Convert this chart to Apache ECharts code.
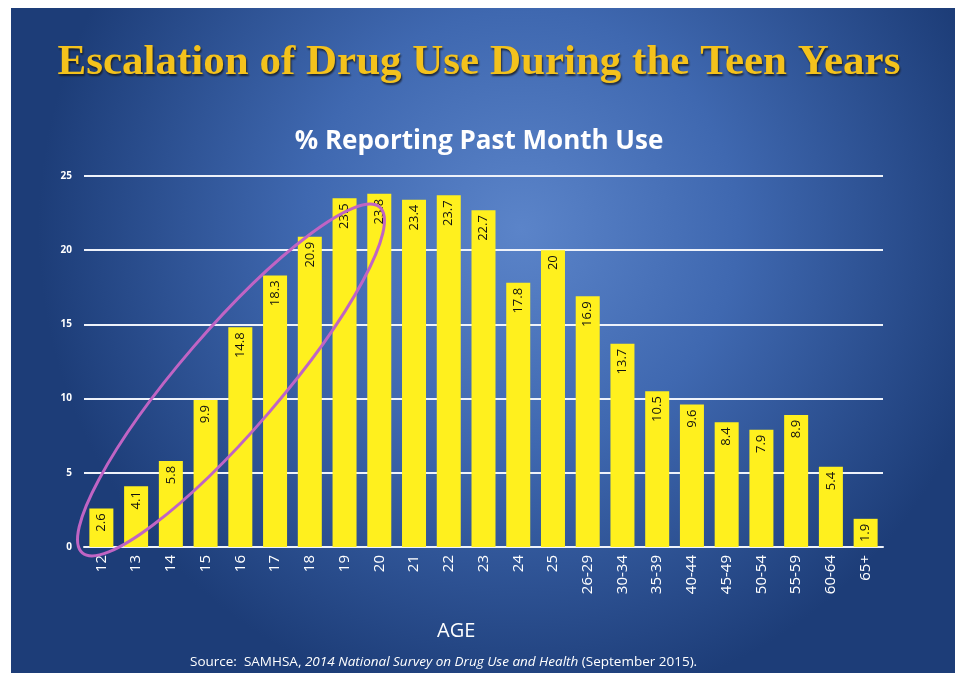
<!DOCTYPE html>
<html>
<head>
<meta charset="utf-8">
<style>
html,body{margin:0;padding:0;background:#fff;}
#c{width:958px;height:673px;}
</style>
<script src="https://cdn.jsdelivr.net/npm/echarts@6/dist/echarts.min.js"></script>
</head>
<body>
<div id="c"></div>
<script>
var categories = ['12','13','14','15','16','17','18','19','20','21','22','23','24','25','26-29','30-34','35-39','40-44','45-49','50-54','55-59','60-64','65+'];
var values = [2.6,4.1,5.8,9.9,14.8,18.3,20.9,23.5,23.8,23.4,23.7,22.7,17.8,20,16.9,13.7,10.5,9.6,8.4,7.9,8.9,5.4,1.9];
var yTicks = [0,5,10,15,20,25];

var chart = echarts.init(document.getElementById('c'));
chart.setOption({
  backgroundColor: '#ffffff',
  animation: false,
  graphic: [
    {
      type: 'rect', z: -10, silent: true,
      shape: {x: 11, y: 8, width: 944, height: 670},
      style: {
        fill: {
          type: 'radial', x: 0.54, y: 0.33, r: 0.72,
          colorStops: [
            {offset: 0, color: '#5b84c9'},
            {offset: 0.45, color: '#3f68b0'},
            {offset: 1, color: '#1d3d78'}
          ]
        }
      }
    },
    {
      type: 'ellipse', z: 100, silent: true,
      x: 231, y: 380, rotation: 49.3 * Math.PI / 180,
      shape: {cx: 0, cy: 0, rx: 228, ry: 50},
      style: {fill: 'none', stroke: '#c064c4', lineWidth: 3}
    }
  ],
  title: [
    {
      text: 'Escalation of Drug Use During the Teen Years',
      left: 'center', top: 36,
      textStyle: {
        fontFamily: 'Liberation Serif', fontSize: 43, fontWeight: 'bold',
        color: '#f4c21c', textShadowColor: 'rgba(20,20,20,0.8)',
        textShadowBlur: 2, textShadowOffsetX: 1, textShadowOffsetY: 2
      }
    },
    {
      text: '% Reporting Past Month Use',
      left: 'center', top: 124,
      textStyle: {fontFamily: 'Open Sans', fontSize: 26, fontWeight: 'bold', color: '#ffffff'}
    },
    {
      text: 'AGE',
      left: 432, top: 616,
      textStyle: {fontFamily: 'Open Sans', fontSize: 20, fontWeight: 'normal', color: '#ffffff'}
    },
    {
      text: '{n|Source:  SAMHSA, }{i|2014 National Survey on Drug Use and Health}{n| (September 2015).}',
      left: 185, top: 650,
      textStyle: {
        fontWeight: 'normal',
        rich: {
          n: {fontFamily: 'Open Sans', fontSize: 13.5, fontWeight: 'normal', color: '#ffffff'},
          i: {fontFamily: 'Open Sans', fontSize: 13.5, fontWeight: 'normal', fontStyle: 'italic', color: '#ffffff'}
        }
      }
    }
  ],
  grid: {left: 84, right: 75, top: 176, bottom: 126, containLabel: false},
  xAxis: {
    type: 'category',
    data: categories,
    axisLine: {show: true, lineStyle: {color: '#eef2fa', width: 2}},
    axisTick: {show: false},
    axisLabel: {
      rotate: 90, color: '#ffffff', fontFamily: 'Open Sans', fontSize: 15, margin: 8, interval: 0
    }
  },
  yAxis: {
    type: 'value',
    min: 0, max: 25, interval: 5,
    axisLine: {show: false},
    axisTick: {show: false},
    splitLine: {lineStyle: {color: '#eef2fa', width: 2}},
    axisLabel: {
      color: '#ffffff', fontFamily: 'Open Sans', fontSize: 10, fontWeight: 'bold', margin: 12,
      formatter: function (v) { return yTicks.indexOf(v) >= 0 ? String(v) : ''; }
    }
  },
  series: [{
    type: 'bar',
    data: values,
    barWidth: 24,
    itemStyle: {color: '#fff01e'},
    label: {
      show: true,
      position: 'insideTop',
      rotate: 90,
      align: 'right',
      verticalAlign: 'middle',
      distance: 5,
      color: '#111111',
      fontFamily: 'Open Sans',
      fontSize: 13
    }
  }]
});
</script>
</body>
</html>
